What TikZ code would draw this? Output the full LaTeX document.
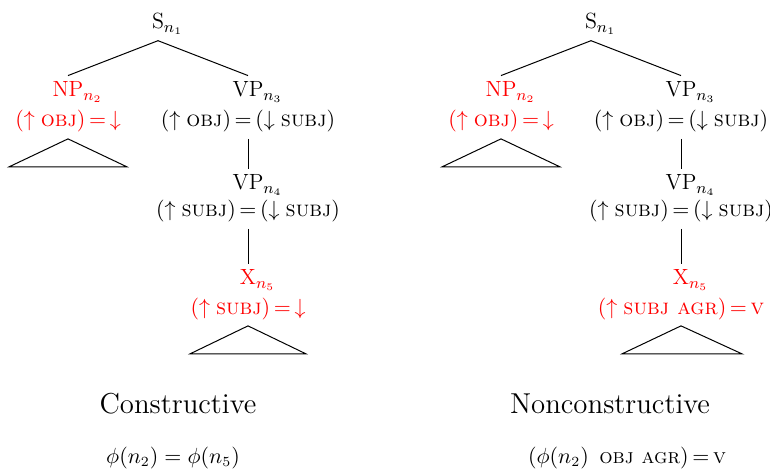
\documentclass[tikz,border=0pt]{standalone}
\definecolor{lfgred}{RGB}{255,0,0}
\tikzset{
  tn/.style={inner sep=3pt, anchor=base, font=\fontsize{11}{13}\selectfont},
  hl/.style={text=lfgred},
  branch/.style={draw=black, line width=0.5pt},
  tri/.style={draw=black, line width=0.5pt},
  title/.style={anchor=base, inner sep=0pt, font=\Large},
  eqn/.style={anchor=base, inner sep=0pt, font=\fontsize{10.5}{12}\selectfont},
}
\newcommand{\sbs}[1]{\rlap{$_{#1}$}}
\newcommand{\up}{{\uparrow}\;}
\newcommand{\dn}{{\downarrow}\;}
\newcommand{\eqs}{\,{=}\,}
\begin{document}
\begin{tikzpicture}[x=0.5pt,y=-0.5pt]
\useasboundingbox (0,0) rectangle (770,470);
% ---------------- left tree ----------------
\node[tn] (Ls1) at (158,29) {S\sbs{n_1}};
\node[tn,hl] (Lnp2) at (68,97) {NP\sbs{n_2}};
\node[tn,hl] (La2) at (68,127) {$(\up\textsc{obj})\eqs{\downarrow}$};
\node[tn] (Lvp3) at (248,97) {VP\sbs{n_3}};
\node[tn] (La3) at (248,127) {$(\up\textsc{obj})\eqs(\dn\textsc{subj})$};
\node[tn] (Lvp4) at (248,190) {VP\sbs{n_4}};
\node[tn] (La4) at (248,217) {$(\up\textsc{subj})\eqs(\dn\textsc{subj})$};
\node[tn,hl] (Lx5) at (248,285) {X\sbs{n_5}};
\node[tn,hl] (La5) at (248,314) {$(\up\textsc{subj})\eqs{\downarrow}$};
\draw[branch] (Ls1.south) -- (Lnp2.north);
\draw[branch] (Ls1.south) -- (Lvp3.north);
\draw[branch] (La3.south) -- (Lvp4.north);
\draw[branch] (La4.south) -- (Lx5.north);
\draw[tri] (La2.south) -- ++(-59,28) -- ++(118,0) -- cycle;
\draw[tri] (La5.south) -- ++(-58,28) -- ++(116,0) -- cycle;
\node[title] (Lt) at (178,413) {Constructive};
\node[eqn] (Le) at (173,463) {$\phi(n_2) = \phi(n_5)$};
% ---------------- right tree ----------------
\node[tn] (Rs1) at (591,29) {S\sbs{n_1}};
\node[tn,hl] (Rnp2) at (501,97) {NP\sbs{n_2}};
\node[tn,hl] (Ra2) at (501,127) {$(\up\textsc{obj})\eqs{\downarrow}$};
\node[tn] (Rvp3) at (681,97) {VP\sbs{n_3}};
\node[tn] (Ra3) at (681,127) {$(\up\textsc{obj})\eqs(\dn\textsc{subj})$};
\node[tn] (Rvp4) at (681,190) {VP\sbs{n_4}};
\node[tn] (Ra4) at (681,217) {$(\up\textsc{subj})\eqs(\dn\textsc{subj})$};
\node[tn,hl] (Rx5) at (681,285) {X\sbs{n_5}};
\node[tn,hl] (Ra5) at (681,314) {$(\up\textsc{subj agr})\eqs\textsc{v}$};
\draw[branch] (Rs1.south) -- (Rnp2.north);
\draw[branch] (Rs1.south) -- (Rvp3.north);
\draw[branch] (Ra3.south) -- (Rvp4.north);
\draw[branch] (Ra4.south) -- (Rx5.north);
\draw[tri] (Ra2.south) -- ++(-59,28) -- ++(118,0) -- cycle;
\draw[tri] (Ra5.south) -- ++(-59,28) -- ++(120,0) -- cycle;
\node[title] (Rt) at (610,413) {Nonconstructive};
\node[eqn] (Re) at (627,463) {$(\phi(n_2)\enspace\textsc{obj agr})\eqs\textsc{v}$};
\end{tikzpicture}
\end{document}
